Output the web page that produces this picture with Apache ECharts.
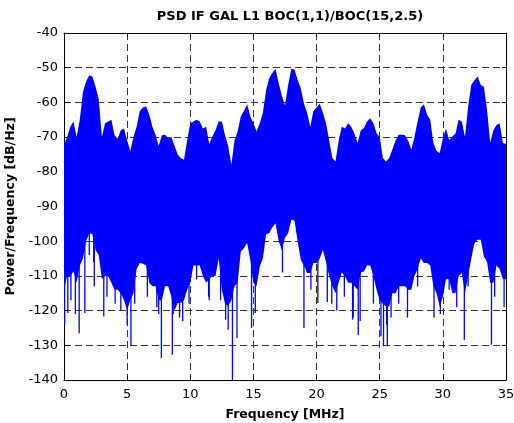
<!DOCTYPE html>
<html>
<head>
<meta charset="utf-8">
<script src="https://cdn.jsdelivr.net/npm/echarts@6/dist/echarts.min.js"></script>
<style>
  html, body { margin: 0; padding: 0; background: #fff; }
  #chart { width: 514px; height: 423px; }
</style>
</head>
<body>
<div id="chart"></div>
<script>
// frequency grid of the envelopes, MHz (0.25 MHz steps)
const freq = [];
for (let i = 0; i <= 140; i++) freq.push(i * 0.25);

// top edge of the PSD trace, dB/Hz
const upper = [
  -72, -70, -67, -65.5, -70, -65, -57, -54, -52.2, -52.5, -55.5, -59,
  -70, -66, -65.5, -65, -69.5, -70.5, -68, -67.5, -71, -74, -70, -67,
  -62.5, -61.5, -61.2, -63.5, -67, -69.3, -72.5, -69.5, -69.3, -70.3, -70, -72.5,
  -75, -76, -76.5, -71, -66, -65.5, -65, -65.5, -67.5, -67, -72, -69.8,
  -68, -65.5, -65.5, -69.5, -72.5, -78, -71, -68.4, -64, -62.5, -60.5, -64,
  -66, -68.4, -66, -63, -56.5, -53, -51.5, -50.3, -54.5, -58, -61, -55,
  -50.3, -50.5, -53.5, -56, -60.3, -63, -67, -62.5, -61.5, -60.3, -63, -66,
  -71, -76, -77, -71, -67, -67.5, -66, -67, -69, -71.7, -68, -67.4,
  -65.5, -64.6, -66, -68.9, -70, -76, -77, -76, -73.6, -71, -69.3, -69.3,
  -69.5, -71, -73.6, -70, -65.5, -61.5, -60.5, -63.5, -65, -71.7, -74, -74.6,
  -70.3, -67.5, -70.8, -69.8, -69, -65, -65.5, -70, -61.2, -55, -53.6, -52.5,
  -55, -55.5, -62.2, -71.7, -68, -66.5, -66, -71.7, -72
];

// bottom of the dense part of the trace, dB/Hz
const lower = [
  -114, -110, -110, -108.7, -112, -107, -105, -100, -97.7, -98, -102.5, -104,
  -111, -110, -110, -112, -114, -114, -115, -117, -119.8, -117, -115, -108,
  -106.3, -106.5, -107, -112, -113, -113, -117, -117, -113, -113, -116, -120,
  -117.8, -117.8, -117, -114, -112, -107, -107, -107, -110, -112, -111, -110,
  -110, -105, -114, -118, -118.8, -117, -113, -112, -103, -102, -100.5, -105.4,
  -112, -113, -107.3, -105, -98, -97.7, -96, -94.8, -100, -102.5, -99, -97.7,
  -93.8, -94, -100, -105.4, -107, -109.2, -109.2, -106.3, -106.3, -105, -102.5, -106,
  -110, -113, -115, -112, -109, -110, -112, -112, -113, -114, -109, -108.7,
  -107, -107, -110, -114, -117, -118, -118.8, -118.8, -115, -115, -113, -113,
  -113, -114, -114, -110, -108, -105, -106.3, -106.3, -107, -113, -115, -118.8,
  -116, -111, -111, -115, -115, -110, -109.2, -115, -110, -105, -100.5, -99.6,
  -99.6, -104.4, -106, -112, -112, -107, -108, -111, -111
];

// deep single-bin dips below the dense part: [MHz, dB/Hz]
const spikes = [
  [0.05, -124], [0.3, -120.7], [0.55, -117], [0.9, -121], [1.2, -126.5], [1.65, -120.7],
  [2.0, -104], [2.35, -106], [2.4, -113], [3.15, -121.7], [3.4, -116], [4.05, -118],
  [4.5, -120], [5.0, -124], [5.3, -130], [5.6, -118], [6.6, -116], [7.35, -119],
  [7.5, -121], [7.71, -133.7], [8.58, -132.7], [8.65, -121], [9.15, -122], [9.4, -123],
  [9.9, -118], [10.5, -111], [11.45, -116], [11.5, -117], [12.4, -117], [12.8, -122.6],
  [13.0, -125.5], [13.34, -140], [13.7, -127.9], [14.85, -125], [15.15, -120.7], [17.3, -109],
  [19.0, -125], [19.55, -114], [20.1, -117.8], [20.85, -117.5], [21.2, -118], [21.6, -120],
  [22.2, -116], [22.85, -122.6], [22.9, -122], [23.3, -127], [23.45, -123], [24.5, -118],
  [25.1, -127.4], [25.3, -130.3], [25.55, -124], [25.6, -130.3], [25.9, -122], [26.5, -118],
  [27.2, -122], [28.0, -113], [29.3, -122], [29.8, -121], [30.5, -114], [31.1, -119],
  [31.7, -128.4], [32.0, -113], [33.85, -129.8], [34.1, -116], [34.85, -119]
];

const xTicks = { min: 0, max: 35, interval: 5 };
const yTicks = { min: -140, max: -40, interval: 10 };

const FONT = 'DejaVu Sans';
const BLUE = '#0000ff';

const chart = echarts.init(document.getElementById('chart'), null, { renderer: 'canvas' });

const gridLine = () => ({ show: true, lineStyle: { color: '#333', width: 1, type: [7, 4] } });
const blackLine = () => ({ show: true, onZero: false, lineStyle: { color: '#000', width: 1 } });
const tickIn = () => ({ show: true, inside: true, length: 4, lineStyle: { color: '#000' } });

const option = {
  animation: false,
  backgroundColor: '#fff',
  title: {
    text: 'PSD IF GAL L1 BOC(1,1)/BOC(15,2.5)',
    left: 285,
    textAlign: 'center',
    top: 5,
    textStyle: { fontFamily: FONT, fontSize: 13, fontWeight: 'bold', color: '#000' },
  },
  grid: { left: 64, right: 8, top: 33, bottom: 43, show: false, outerBoundsMode: 'none', containLabel: false },
  xAxis: [
    {
      type: 'value', ...xTicks, position: 'bottom',
      axisLine: blackLine(), axisTick: tickIn(), splitLine: gridLine(),
      axisLabel: { color: '#000', fontFamily: FONT, fontSize: 13, margin: 8 },
      name: 'Frequency [MHz]', nameLocation: 'middle', nameGap: 28,
      nameTextStyle: { fontFamily: FONT, fontSize: 12.5, fontWeight: 'bold', color: '#000' },
    },
    {
      type: 'value', ...xTicks, position: 'top',
      axisLine: blackLine(), axisTick: tickIn(), axisLabel: { show: false }, splitLine: { show: false },
    },
  ],
  yAxis: [
    {
      type: 'value', ...yTicks, position: 'left',
      axisLine: blackLine(), axisTick: tickIn(), splitLine: gridLine(),
      axisLabel: { color: '#000', fontFamily: FONT, fontSize: 13, margin: 6 },
      name: 'Power/Frequency [dB/Hz]', nameLocation: 'middle', nameGap: 43,
      nameTextStyle: { fontFamily: FONT, fontSize: 12.5, fontWeight: 'bold', color: '#000' },
    },
    {
      type: 'value', ...yTicks, position: 'right',
      axisLine: blackLine(), axisTick: tickIn(), axisLabel: { show: false }, splitLine: { show: false },
    },
  ],
  series: [
    {
      // the dense part of the trace as one filled band
      type: 'custom',
      xAxisIndex: 0, yAxisIndex: 0,
      data: [[0, -90]],
      clip: true,
      renderItem: (params, api) => {
        const pts = [];
        for (let i = 0; i < freq.length; i++) pts.push(api.coord([freq[i], upper[i]]));
        for (let i = freq.length - 1; i >= 0; i--) pts.push(api.coord([freq[i], lower[i]]));
        return { type: 'polygon', shape: { points: pts }, style: { fill: BLUE } };
      },
    },
    {
      // deep dips
      type: 'custom',
      xAxisIndex: 0, yAxisIndex: 0,
      data: spikes,
      clip: true,
      renderItem: (params, api) => {
        const a = api.coord([api.value(0), -90]);
        const b = api.coord([api.value(0), api.value(1)]);
        return {
          type: 'line',
          shape: { x1: a[0], y1: a[1], x2: b[0], y2: b[1] },
          style: { stroke: BLUE, lineWidth: 1.3 },
        };
      },
    },
  ],
};

chart.setOption(option);
</script>
</body>
</html>
